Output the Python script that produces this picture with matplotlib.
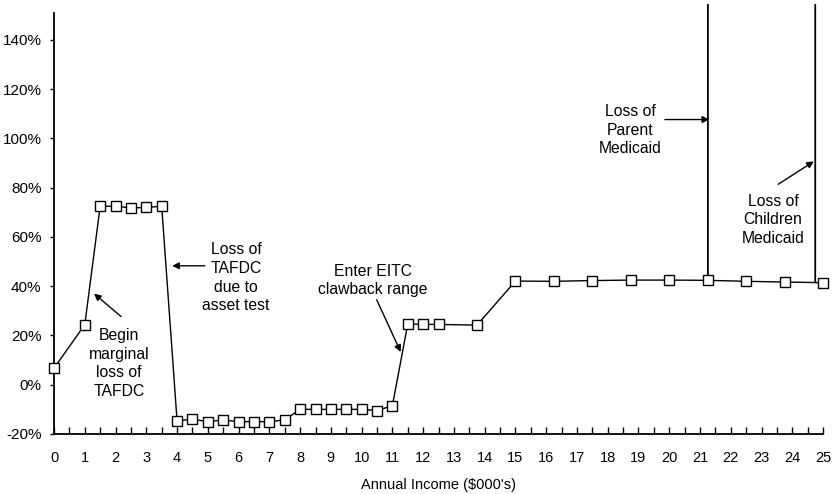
import matplotlib.pyplot as plt
import numpy as np

plt.rcParams['font.family'] = ['Liberation Sans', 'DejaVu Sans']

# marginal tax rate by annual income ($000's); the two spikes run far off the chart
income = [0, 1, 1.5, 2, 2.5, 3, 3.5, 4, 4.5, 5, 5.5, 6, 6.5, 7, 7.5, 8, 8.5, 9,
          9.5, 10, 10.5, 11, 11.5, 12, 12.5, 13.75, 15, 16.25, 17.5, 18.75, 20,
          21.25, 21.25, 21.25, 22.5, 23.75, 24.75, 24.75, 24.75, 25]
rate = [6.7, 24.4, 72.5, 72.5, 71.8, 72, 72.5, -14.7, -14, -15, -14.3, -15, -15,
        -15, -14.3, -10, -10, -10, -10, -10, -10.5, -8.5, 24.7, 24.5, 24.5, 24.2,
        42.1, 42, 42.3, 42.5, 42.5, 42.4, 1000, 42.4, 42, 41.7, 41.5, 1000, 41.5,
        41.3]
# spike points and the turn at 24.75 have no marker
no_marker = [32, 33, 36, 37, 38]

xticks = list(range(0, 26))
yticks = [-20, 0, 20, 40, 60, 80, 100, 120, 140]

notes = [
    ("Begin\nmarginal\nloss of\nTAFDC", (2.11, 8.7), (2.18, 27.7), (1.3, 37)),
    ("Loss of\nTAFDC\ndue to\nasset test", (5.92, 43.4), (4.9, 48.3), (3.84, 48.3)),
    ("Enter EITC\nclawback range", (10.36, 42.3), (10.49, 34.5), (11.27, 13.3)),
    ("Loss of\nParent\nMedicaid", (18.73, 103.4), (19.86, 107.7), (21.3, 107.7)),
    ("Loss of\nChildren\nMedicaid", (23.37, 66.9), (23.54, 81.4), (24.7, 90.7)),
]

fig = plt.figure(figsize=(8.39, 4.94), dpi=100)
ax = fig.add_axes([0.0644, 0.1215, 0.9166, 0.8713])

marks = [i for i in range(len(income)) if i not in no_marker]
ax.plot(income, rate, color='black', lw=1.0, zorder=3)
# markers unclipped so the one at x=25 is whole
ax.plot([income[i] for i in marks], [rate[i] for i in marks], ls='none',
        marker='s', markersize=6.8, markerfacecolor='white',
        markeredgecolor='black', markeredgewidth=1.0, clip_on=False, zorder=4)

for text, pos, tail, head in notes:
    ax.text(pos[0], pos[1], text, ha='center', va='center', fontsize=11.3,
            linespacing=1.3)
    ax.annotate('', xy=head, xytext=tail,
                arrowprops=dict(arrowstyle='-|>', color='black', lw=1.0,
                                mutation_scale=10, shrinkA=0, shrinkB=0))

ax.set_xlim(0, 25)
ax.set_ylim(-20, 154.8)
ax.spines['top'].set_visible(False)
ax.spines['right'].set_visible(False)
ax.spines['left'].set_bounds(-20, 151)
ax.spines['left'].set_linewidth(1.3)
ax.spines['bottom'].set_linewidth(1.3)

ax.set_xticks(xticks)
ax.set_xticks(np.arange(0.5, 25, 1), minor=True)
ax.tick_params(axis='x', which='both', direction='in', length=5, width=1,
               labelsize=10.5, pad=12.5)
ax.set_yticks(yticks)
ax.set_yticklabels([f"{v}%" for v in yticks])
ax.tick_params(axis='y', direction='out', length=3, width=1, labelsize=11,
               pad=6)
ax.set_xlabel("Annual Income ($000's)", fontsize=10.5, labelpad=9)

fig.savefig('out.png', dpi=100)
